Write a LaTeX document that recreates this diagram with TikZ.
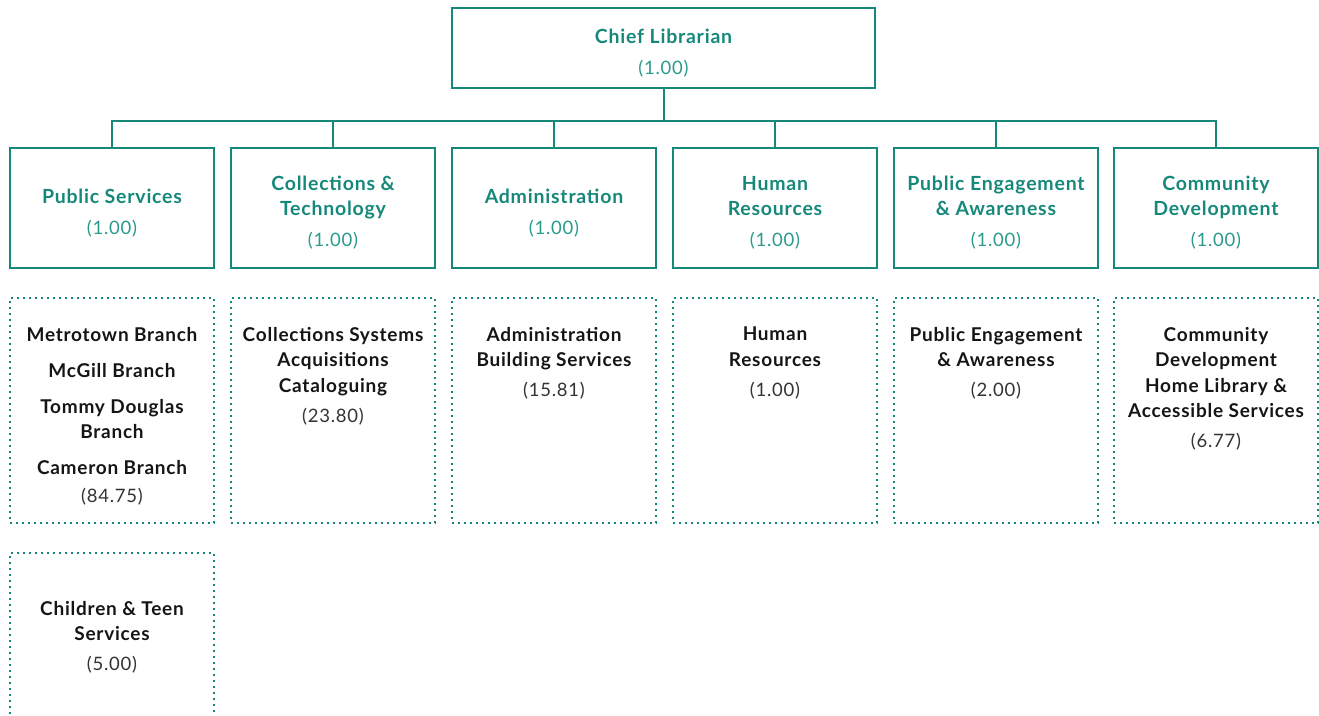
\documentclass[tikz,border=0pt]{standalone}
\usepackage{fontspec}
\setmainfont{Lato}[LetterSpace=4]
\definecolor{tealc}{HTML}{16887A}
\definecolor{numc}{HTML}{2A9A8C}
\definecolor{darkc}{HTML}{151515}
\definecolor{graynum}{HTML}{333333}
\begin{document}
\begin{tikzpicture}[x=1pt,y=-1pt,
  headbox/.style={draw=tealc, line width=2pt, minimum width=204pt, minimum height=120pt, inner sep=0pt,
    align=center, text=tealc, font=\fontsize{19.5}{25.5}\selectfont\bfseries},
  chiefbox/.style={headbox, minimum width=423pt, minimum height=80pt},
  dotbox/.style={draw=tealc, line width=1.7pt, dash pattern=on 1.7pt off 4.3pt, minimum width=204pt, minimum height=225pt, inner sep=0pt},
  subtext/.style={anchor=north, inner sep=0pt, align=center, text=darkc, font=\fontsize{19}{25.5}\selectfont\bfseries},
  conn/.style={draw=tealc, line width=2pt},
]
\useasboundingbox (0,0) rectangle (1319,715);
\newcommand{\hnum}[1]{\\[5.5pt]{\mdseries\fontsize{18.5}{25}\selectfont\color{numc}#1}}
\newcommand{\snum}[1]{\\[4.5pt]{\mdseries\fontsize{18.5}{25}\selectfont\color{graynum}#1}}
\newcommand{\up}{\rule{0pt}{24pt}}

\node[chiefbox] (chief) at (663.5,48) {\up Chief Librarian\hnum{(1.00)}};

\node[headbox] (b1) at (112,208) {\up Public Services\hnum{(1.00)}};
\node[headbox] (b2) at (333,208) {\up Collections \&\\Technology\hnum{(1.00)}};
\node[headbox] (b3) at (554,208) {\up Administration\hnum{(1.00)}};
\node[headbox] (b4) at (775,208) {\up Human\\Resources\hnum{(1.00)}};
\node[headbox] (b5) at (996,208) {\up Public Engagement\\\& Awareness\hnum{(1.00)}};
\node[headbox] (b6) at (1216,208) {\up Community\\Development\hnum{(1.00)}};

\coordinate (bus) at (663.5,121);
\draw[conn] (chief.south) -- (bus);
\draw[conn] (b1.north) |- (bus) -| (b6.north);
\foreach \b in {b2,b3,b4,b5} \draw[conn] (\b.north) -- (\b.north |- bus);

\node[dotbox] (d1) at (112,410.5) {};
\node[dotbox] (d2) at (333,410.5) {};
\node[dotbox] (d3) at (554,410.5) {};
\node[dotbox] (d4) at (775,410.5) {};
\node[dotbox] (d5) at (996,410.5) {};
\node[dotbox] (d6) at (1216,410.5) {};
\node[dotbox] (d7) at (112,665.5) {};

\node[subtext] (t1) at (112,327) {Metrotown Branch\\[10.5pt]McGill Branch\\[10.5pt]Tommy Douglas\\Branch\\[10.5pt]Cameron Branch\\[2.5pt]{\mdseries\fontsize{18.5}{25}\selectfont\color{graynum}(84.75)}};
\node[subtext] (t2) at (333,327) {Collections Systems\\Acquisitions\\Cataloguing\snum{(23.80)}};
\node[subtext] (t3) at (554,327) {Administration\\Building Services\snum{(15.81)}};
\node[subtext] (t4) at (775,327) {Human\\Resources\snum{(1.00)}};
\node[subtext] (t5) at (996,327) {Public Engagement\\\& Awareness\snum{(2.00)}};
\node[subtext] (t6) at (1216,327) {Community\\Development\\Home Library \&\\Accessible Services\snum{(6.77)}};
\node[subtext] (t7) at (112,601) {Children \& Teen\\Services\snum{(5.00)}};
\end{tikzpicture}
\end{document}
